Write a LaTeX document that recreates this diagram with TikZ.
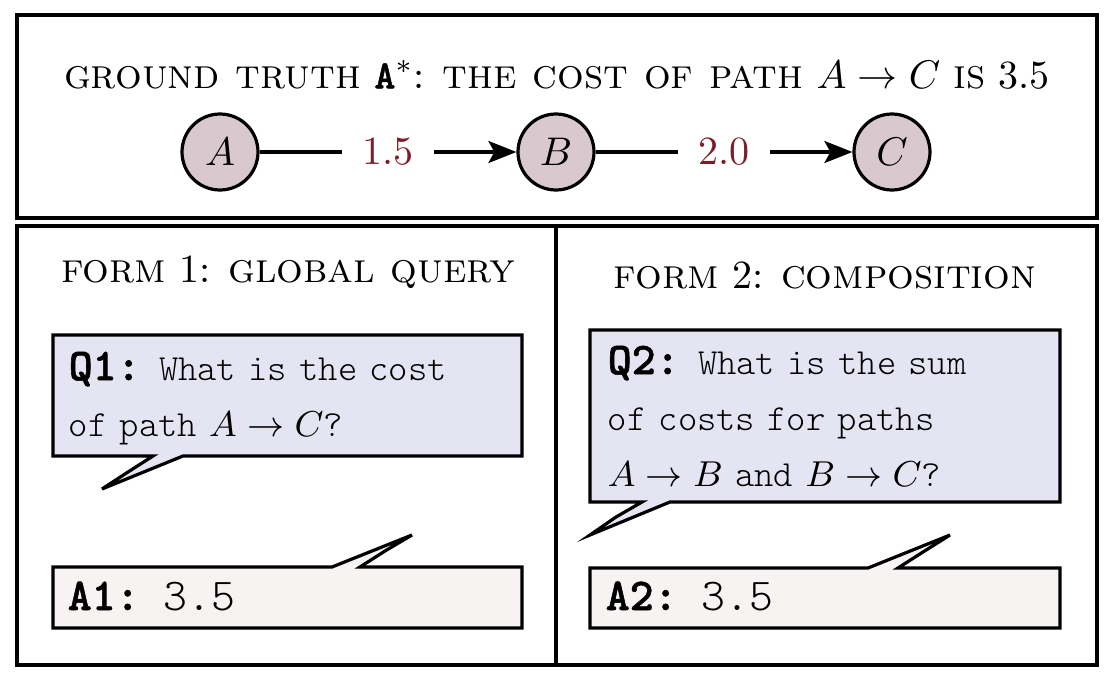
\documentclass[tikz,border=0pt]{standalone}
\usepackage{fontspec}
\setmonofont{lmmonolt10-regular.otf}
\newfontfamily\labelfont[FakeBold=1.2]{lmmonolt10-bold.otf}
\newcommand{\capsword}[1]{{\fontsize{10.5}{12}\selectfont\textsc{#1}}}
\usetikzlibrary{positioning,arrows.meta}
\definecolor{qfill}{HTML}{E4E4F2}
\definecolor{afill}{HTML}{F7F3F2}
\definecolor{vfill}{HTML}{D9C9CF}
\definecolor{costred}{HTML}{7B1E2A}
\tikzset{
    node distance=84pt, % centre to centre between the vertices of the path
    }

\begin{document}
\begin{tikzpicture}[x=0.25pt,y=-0.25pt,
vertex/.style={circle, draw=black, thick, fill=vfill, minimum size=19pt, inner sep=0pt},
cost/.style={fill=white, text=costred, inner sep=5pt},
frame/.style={draw=black, thick},
bubble/.style={draw=black, thick, line join=miter},
qtext/.style={anchor=north west, text width=112pt, align=left, inner sep=0pt, font=\fontsize{9.2}{14}\selectfont\ttfamily},
atext/.style={anchor=base west, inner sep=0pt, font=\fontsize{11.4}{13}\selectfont\ttfamily},
heading/.style={font=\normalsize},
]
\useasboundingbox (0,0) rectangle (1116,686);

% frames
\draw[frame] (17,15) rectangle (1097,218);
\draw[frame] (17,226) rectangle (1097,665);
\draw[frame] (556,226) -- (556,665);

% ground truth
\node[heading] (title) at (557,75) {\capsword{ground truth} {\labelfont A}$^*$: \capsword{the cost of path} $A\to C$ \capsword{is} 3.5};
\node[vertex] (a) at (220,152) {$A$};
\node[vertex] (b) [right of=a] {$B$};
\node[vertex] (c) [right of=b] {$C$};

\draw[thick,-{Stealth[length=7pt,width=5.5pt,inset=1.5pt]}] (a) -- node[cost] {1.5} (b);
\draw[thick,-{Stealth[length=7pt,width=5.5pt,inset=1.5pt]}] (b) -- node[cost] {2.0} (c);

% form 1
\node[heading] (form1) at (288,272) {\capsword{form} 1: \capsword{global query}};
\filldraw[bubble, fill=qfill] (53,335) -- (522,335) -- (522,456) -- (183,456) -- (102,489) -- (128,472) -- (153,456) -- (53,456) -- cycle;
\filldraw[bubble, fill=afill] (53,567) -- (332,567) -- (412,535) -- (385,551) -- (360,567) -- (522,567) -- (522,628) -- (53,628) -- cycle;
\node[qtext] (q1) at (68,351) {{\fontsize{11.4}{14}\selectfont\labelfont Q1:} What is the cost\\of path $A\to C$?};
\node[atext] (a1) at (67,610) {{\labelfont A1:} 3.5};

% form 2
\node[heading] (form2) at (825,275) {\capsword{form} 2: \capsword{composition}};
\filldraw[bubble, fill=qfill] (590,330) -- (1060,330) -- (1060,502) -- (670,502) -- (590,535) -- (616,517) -- (642,502) -- (590,502) -- cycle;
\filldraw[bubble, fill=afill] (590,568) -- (868,568) -- (950,535) -- (923,552) -- (898,568) -- (1060,568) -- (1060,628) -- (590,628) -- cycle;
\node[qtext] (q2) at (607,345) {{\fontsize{11.4}{14}\selectfont\labelfont Q2:} What is the sum\\of costs for paths\\$A\to B$ and $B\to C$?};
\node[atext] (a2) at (605,610) {{\labelfont A2:} 3.5};

\end{tikzpicture}
\end{document}
